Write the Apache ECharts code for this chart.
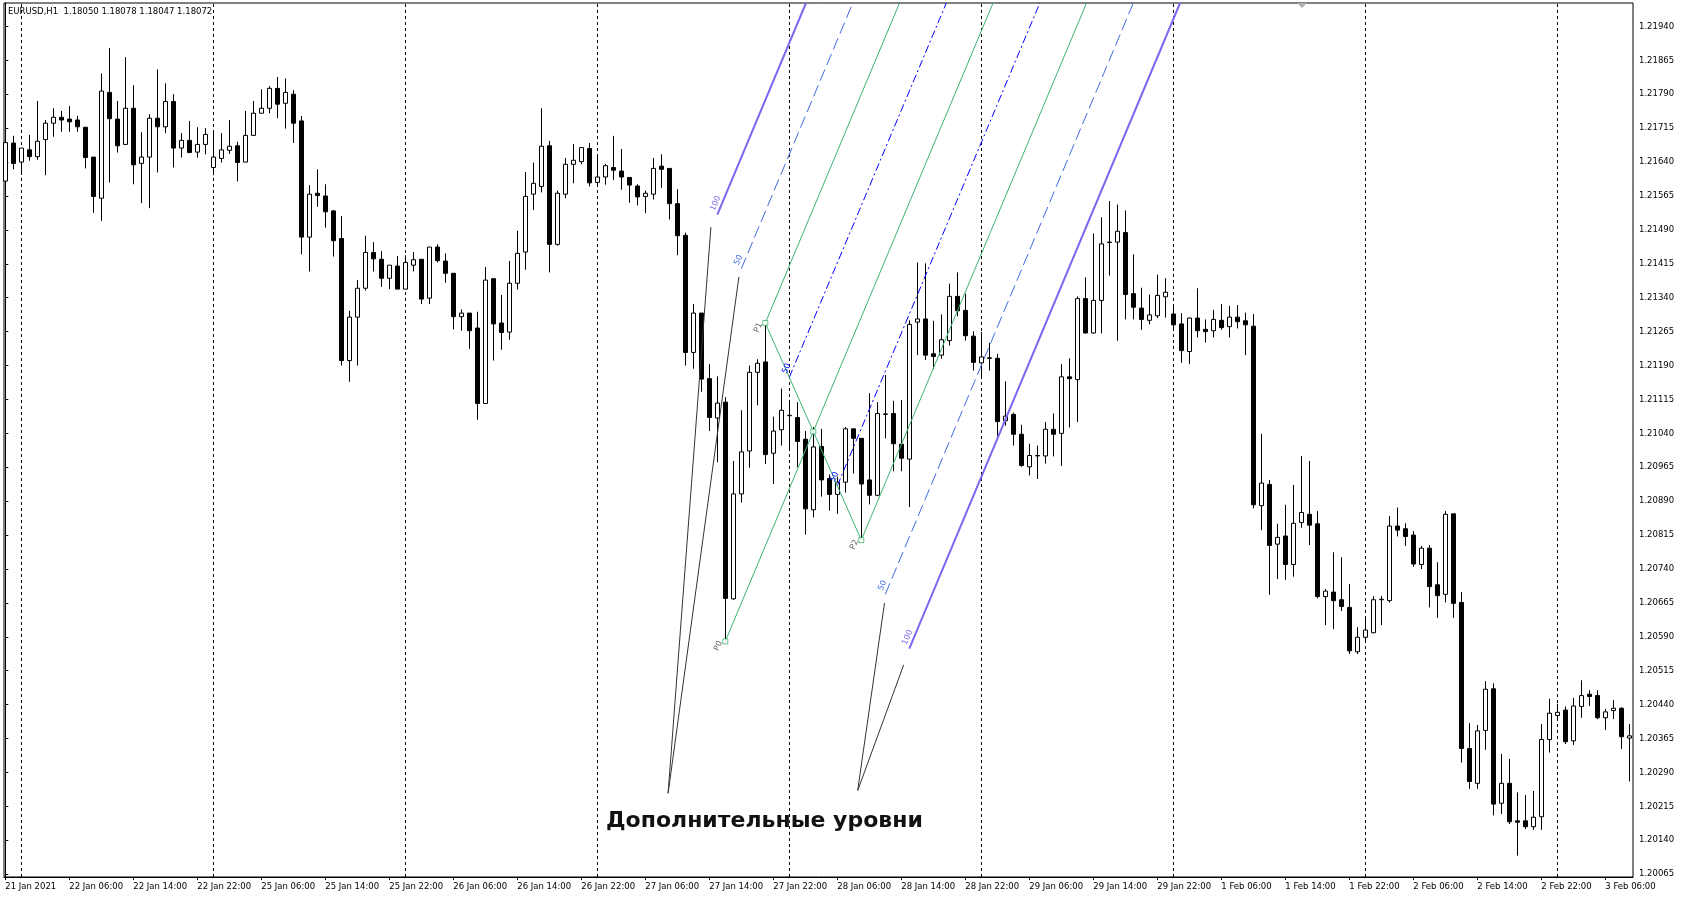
<!DOCTYPE html>
<html><head><meta charset="utf-8">
<script src="https://cdn.jsdelivr.net/npm/echarts@6/dist/echarts.min.js"></script>
<style>html,body{margin:0;padding:0;background:#fff}#c{width:1681px;height:900px}</style>
</head><body><div id="c"></div>
<script>
// ---- data (EURUSD H1, bar 0 = 21 Jan 22:00) ----
const open = [1.21598,1.21682,1.21640,1.21667,1.21652,1.21690,1.21726,1.21739,1.21735,1.21733,
1.21717,1.21651,1.21560,1.21794,1.21735,1.21679,1.21759,1.21637,1.21651,1.21737,
1.21718,1.21774,1.21671,1.21688,1.21662,1.21679,1.21628,1.21648,1.21666,1.21676,
1.21640,1.21699,1.21748,1.21759,1.21803,1.21770,1.21790,1.21731,1.21474,1.21571,
1.21565,1.21532,1.21471,1.21201,1.21297,1.21361,1.21440,1.21425,1.21383,1.21410,
1.21359,1.21412,1.21425,1.21339,1.21452,1.21421,1.21394,1.21298,1.21306,1.21273,
1.21106,1.21382,1.21284,1.21264,1.21372,1.21441,1.21569,1.21586,1.21676,1.21458,
1.21569,1.21635,1.21641,1.21670,1.21595,1.21607,1.21628,1.21620,1.21606,1.21587,
1.21564,1.21569,1.21631,1.21626,1.21548,1.21478,1.21219,1.21306,1.21161,1.21074,
1.21109,1.20674,1.20906,1.21001,1.21175,1.21198,1.20996,1.21048,1.21079,1.21075,
1.21027,1.20871,1.21011,1.20940,1.20905,1.20932,1.21050,1.21029,1.20937,1.20903,
1.21082,1.21084,1.21016,1.20983,1.21286,1.21293,1.21216,1.21213,1.21245,1.21343,
1.21312,1.21255,1.21196,1.21207,1.21206,1.21068,1.21082,1.21038,1.20966,1.20990,
1.20990,1.21049,1.21040,1.21165,1.21159,1.21338,1.21262,1.21334,1.21463,1.21463,
1.21484,1.21349,1.21317,1.21290,1.21300,1.21342,1.21304,1.21282,1.21221,1.21295,
1.21270,1.21267,1.21290,1.21276,1.21297,1.21289,1.21277,1.20880,1.20927,1.20795,
1.20813,1.20750,1.20843,1.20861,1.20840,1.20679,1.20689,1.20672,1.20655,1.20557,
1.20589,1.20599,1.20672,1.20670,1.20835,1.20829,1.20815,1.20750,1.20786,1.20705,
1.20684,1.20862,1.20666,1.20343,1.20266,1.20383,1.20475,1.20222,1.20266,1.20183,
1.20183,1.20170,1.20192,1.20363,1.20416,1.20428,1.20360,1.20436,1.20463,1.20460,
1.20411,1.20427,1.20432,1.20366];
const close = [1.21683,1.21637,1.21671,1.21652,1.21686,1.21726,1.21739,1.21733,1.21729,1.21718,
1.21650,1.21564,1.21797,1.21736,1.21676,1.21759,1.21634,1.21651,1.21737,1.21718,
1.21774,1.21671,1.21688,1.21661,1.21679,1.21701,1.21651,1.21667,1.21675,1.21639,
1.21699,1.21748,1.21759,1.21803,1.21768,1.21794,1.21726,1.21474,1.21569,1.21566,
1.21530,1.21466,1.21201,1.21297,1.21361,1.21440,1.21426,1.21383,1.21412,1.21359,
1.21418,1.21424,1.21337,1.21452,1.21422,1.21394,1.21298,1.21306,1.21267,1.21106,
1.21379,1.21282,1.21263,1.21372,1.21438,1.21564,1.21593,1.21675,1.21458,1.21571,
1.21635,1.21644,1.21672,1.21594,1.21607,1.21632,1.21622,1.21607,1.21589,1.21563,
1.21571,1.21626,1.21624,1.21548,1.21477,1.21219,1.21306,1.21160,1.21075,1.21107,
1.20675,1.20906,1.20999,1.21175,1.21195,1.20993,1.21045,1.21091,1.21080,1.21022,
1.20873,1.21010,1.20937,1.20905,1.20932,1.21050,1.21029,1.20928,1.20903,1.21084,
1.21083,1.21017,1.20985,1.21281,1.21293,1.21213,1.21210,1.21247,1.21343,1.21311,
1.21256,1.21197,1.21209,1.21206,1.21066,1.21078,1.21038,1.20969,1.20991,1.20991,
1.21049,1.21038,1.21165,1.21161,1.21338,1.21262,1.21334,1.21459,1.21462,1.21487,
1.21347,1.21319,1.21292,1.21302,1.21345,1.21352,1.21280,1.21223,1.21295,1.21267,
1.21265,1.21292,1.21274,1.21297,1.21287,1.21280,1.20882,1.20930,1.20792,1.20810,
1.20750,1.20841,1.20865,1.20837,1.20679,1.20691,1.20670,1.20657,1.20559,1.20589,
1.20605,1.20672,1.20673,1.20835,1.20826,1.20812,1.20751,1.20786,1.20701,1.20681,
1.20861,1.20664,1.20343,1.20270,1.20382,1.20474,1.20220,1.20266,1.20181,1.20180,
1.20170,1.20191,1.20363,1.20421,1.20423,1.20358,1.20437,1.20460,1.20458,1.20411,
1.20424,1.20432,1.20369,1.20371];
const high = [1.21695,1.21698,1.21671,1.21700,1.21775,1.21733,1.21759,1.21753,1.21764,1.21742,
1.21717,1.21651,1.21836,1.21892,1.21775,1.21872,1.21810,1.21706,1.21746,1.21845,
1.21814,1.21790,1.21704,1.21731,1.21717,1.21715,1.21711,1.21704,1.21733,1.21685,
1.21753,1.21775,1.21801,1.21808,1.21828,1.21825,1.21799,1.21742,1.21589,1.21624,
1.21591,1.21534,1.21521,1.21311,1.21379,1.21477,1.21463,1.21443,1.21412,1.21432,
1.21434,1.21441,1.21425,1.21452,1.21458,1.21438,1.21394,1.21314,1.21306,1.21309,
1.21408,1.21383,1.21346,1.21421,1.21488,1.21618,1.21639,1.21759,1.21687,1.21577,
1.21649,1.21680,1.21672,1.21682,1.21657,1.21636,1.21698,1.21669,1.21606,1.21591,
1.21577,1.21649,1.21657,1.21626,1.21580,1.21484,1.21326,1.21306,1.21193,1.21166,
1.21120,1.20979,1.21091,1.21190,1.21204,1.21284,1.21077,1.21139,1.21114,1.21109,
1.21045,1.21054,1.21050,1.20949,1.20944,1.21054,1.21050,1.21029,1.21129,1.21109,
1.21169,1.21112,1.21114,1.21290,1.21418,1.21416,1.21289,1.21303,1.21371,1.21396,
1.21349,1.21266,1.21264,1.21240,1.21216,1.21155,1.21086,1.21059,1.21017,1.21013,
1.21065,1.21084,1.21193,1.21206,1.21343,1.21385,1.21482,1.21518,1.21554,1.21546,
1.21533,1.21436,1.21362,1.21347,1.21391,1.21383,1.21324,1.21306,1.21296,1.21361,
1.21292,1.21313,1.21326,1.21322,1.21324,1.21307,1.21304,1.21039,1.20937,1.20840,
1.20882,1.20926,1.20990,1.20979,1.20868,1.20696,1.20777,1.20766,1.20707,1.20611,
1.20636,1.20680,1.20680,1.20857,1.20876,1.20841,1.20824,1.20791,1.20793,1.20755,
1.20868,1.20862,1.20689,1.20399,1.20395,1.20492,1.20487,1.20331,1.20320,1.20246,
1.20240,1.20249,1.20397,1.20453,1.20442,1.20436,1.20455,1.20494,1.20472,1.20472,
1.20430,1.20450,1.20434,1.20397];
const low = [1.21564,1.21624,1.21613,1.21643,1.21645,1.21611,1.21696,1.21707,1.21707,1.21707,
1.21626,1.21528,1.21510,1.21595,1.21661,1.21679,1.21591,1.21549,1.21538,1.21617,
1.21704,1.21628,1.21650,1.21661,1.21650,1.21657,1.21611,1.21639,1.21658,1.21597,
1.21640,1.21699,1.21748,1.21748,1.21737,1.21714,1.21682,1.21436,1.21398,1.21541,
1.21495,1.21431,1.21190,1.21154,1.21190,1.21356,1.21398,1.21364,1.21359,1.21359,
1.21359,1.21398,1.21326,1.21326,1.21418,1.21373,1.21270,1.21267,1.21227,1.21070,
1.21106,1.21201,1.21225,1.21247,1.21358,1.21402,1.21534,1.21573,1.21396,1.21455,
1.21560,1.21593,1.21635,1.21586,1.21586,1.21590,1.21600,1.21579,1.21550,1.21544,
1.21527,1.21557,1.21583,1.21513,1.21434,1.21190,1.21183,1.21132,1.21045,1.20976,
1.20580,1.20672,1.20887,1.20964,1.21102,1.20972,1.20928,1.21013,1.21004,1.20965,
1.20816,1.20854,1.20900,1.20869,1.20862,1.20909,1.20951,1.20804,1.20883,1.20901,
1.21029,1.20956,1.20956,1.20877,1.21213,1.21202,1.21182,1.21205,1.21234,1.21299,
1.21245,1.21179,1.21163,1.21179,1.21031,1.21057,1.21013,1.20966,1.20947,1.20939,
1.20973,1.20989,1.20968,1.21053,1.21065,1.21261,1.21261,1.21261,1.21389,1.21245,
1.21292,1.21292,1.21269,1.21281,1.21295,1.21296,1.21272,1.21196,1.21193,1.21252,
1.21241,1.21252,1.21269,1.21252,1.21272,1.21213,1.20874,1.20826,1.20683,1.20718,
1.20716,1.20723,1.20831,1.20793,1.20675,1.20616,1.20607,1.20647,1.20552,1.20552,
1.20583,1.20598,1.20616,1.20666,1.20812,1.20791,1.20745,1.20740,1.20655,1.20632,
1.20666,1.20632,1.20312,1.20254,1.20254,1.20340,1.20195,1.20198,1.20176,1.20106,
1.20165,1.20163,1.20163,1.20334,1.20405,1.20353,1.20351,1.20411,1.20437,1.20408,
1.20384,1.20408,1.20342,1.20270];

// time-axis labels, one every 8 bars starting at bar 0
const timeTickLabels = ['21 Jan 2021','22 Jan 06:00','22 Jan 14:00','22 Jan 22:00','25 Jan 06:00','25 Jan 14:00',
'25 Jan 22:00','26 Jan 06:00','26 Jan 14:00','26 Jan 22:00','27 Jan 06:00','27 Jan 14:00','27 Jan 22:00',
'28 Jan 06:00','28 Jan 14:00','28 Jan 22:00','29 Jan 06:00','29 Jan 14:00','29 Jan 22:00','1 Feb 06:00',
'1 Feb 14:00','1 Feb 22:00','2 Feb 06:00','2 Feb 14:00','2 Feb 22:00','3 Feb 06:00'];
const timeTickBars = [0,8,16,24,32,40,48,56,64,72,80,88,96,104,112,120,128,136,144,152,160,168,176,184,192,200];
// day separators (bar index of 00:00)
const daySeparators = [2,26,50,74,98,122,146,170,194];
// price-axis tick labels
const priceTicks = [1.20065,1.20140,1.20215,1.20290,1.20365,1.20440,1.20515,1.20590,1.20665,1.20740,
1.20815,1.20890,1.20965,1.21040,1.21115,1.21190,1.21265,1.21340,1.21415,1.21490,1.21565,1.21640,
1.21715,1.21790,1.21865,1.21940];
// pitchfork anchors [bar, price]
const pfP0 = [90, 1.20580];
const pfP1 = [95, 1.21284];
const pfP2 = [107, 1.20804];
// levels as fractions of the P1-P2 half-width measured from the median
const pfLevelT     = [-2, -1.5, -1, -0.5, 0.5, 1, 1.5, 2];
const pfLevelText  = ['100', '50', '', '50', '50', '', '50', '100'];
const pfLevelKind  = ['outer', 'outer50', 'tine', 'inner', 'inner', 'tine', 'outer50', 'outer'];
// annotation callouts: [from, to] in [bar, price]
const callouts = [
  [[82.85, 1.20244], [88.2, 1.21496]],
  [[82.85, 1.20244], [91.7, 1.21386]],
  [[106.55, 1.20250], [109.9, 1.20665]],
  [[106.55, 1.20250], [112.3, 1.20528]]
];
const annotationText = 'Дополнительные уровни';
const headerText = 'EURUSD,H1  1.18050 1.18078 1.18047 1.18072';

// ---- chart ----
const yMin = 1.200588, yMax = 1.219918;
const xMin = -0.1625, xMax = 203.4625;
const candles = open.map((o, i) => [i, o, close[i], low[i], high[i]]);

const M = [(pfP1[0] + pfP2[0]) / 2, (pfP1[1] + pfP2[1]) / 2];
const dir = [M[0] - pfP0[0], M[1] - pfP0[1]];
function rayEnd(s) {
  const k = (yMax - 1e-7 - s[1]) / dir[1];
  return [s[0] + k * dir[0], s[1] + k * dir[1]];
}
const kinds = {
  outer:   { color: '#7B68EE', width: 2, type: 'solid' },
  outer50: { color: '#4169E1', width: 1, type: [12, 5] },
  tine:    { color: '#3CB371', width: 1, type: 'solid' },
  inner:   { color: '#0000FF', width: 1, type: [8, 3, 2, 3] }
};
const pfLines = [];
pfLevelT.forEach((t, i) => {
  const s = [M[0] + t * (pfP2[0] - M[0]), M[1] + t * (pfP2[1] - M[1])];
  const k = kinds[pfLevelKind[i]];
  pfLines.push([
    { coord: s, lineStyle: { color: k.color, width: k.width, type: k.type },
      label: { show: pfLevelText[i] !== '', formatter: pfLevelText[i], position: 'insideStartTop',
               color: k.color, fontSize: 8, fontFamily: 'DejaVu Sans', distance: 2 } },
    { coord: rayEnd(s) }
  ]);
});
pfLines.push([{ coord: pfP0, lineStyle: { color: '#3CB371', width: 1, type: 'solid' }, label: { show: false } }, { coord: rayEnd(pfP0) }]);
pfLines.push([{ coord: pfP1, lineStyle: { color: '#3CB371', width: 1, type: 'solid' }, label: { show: false } }, { coord: pfP2 }]);
callouts.forEach(c => {
  pfLines.push([{ coord: c[0], lineStyle: { color: '#333', width: 1, type: 'solid' }, label: { show: false } }, { coord: c[1] }]);
});

const chart = echarts.init(document.getElementById('c'), null, { renderer: 'canvas' });
chart.setOption({
  animation: false,
  backgroundColor: '#fff',
  title: [
    { text: headerText, left: 8, top: 7, padding: 0,
      textStyle: { fontFamily: 'DejaVu Sans', fontSize: 8.5, fontWeight: 'normal', color: '#000' } },
    { text: annotationText, left: 606, top: 810, padding: 0,
      textStyle: { fontFamily: 'DejaVu Sans', fontSize: 22, fontWeight: 'bold', color: '#111' } }
  ],
  graphic: [
    { type: 'polygon', shape: { points: [[1297, 3], [1307, 3], [1302, 8]] }, style: { fill: '#b0b0b0' }, z: 100 }
  ],
  grid: { left: 4, right: 48, top: 3, bottom: 23, show: true, borderColor: '#000', borderWidth: 1, backgroundColor: '#fff' },
  xAxis: {
    type: 'value', min: xMin, max: xMax,
    axisLine: { show: true, lineStyle: { color: '#000', width: 1 } },
    axisTick: { show: true, length: 3, customValues: timeTickBars, lineStyle: { color: '#000' } },
    axisLabel: { customValues: timeTickBars, formatter: v => timeTickLabels[timeTickBars.indexOf(Math.round(v))] || '',
                 align: 'left', margin: 5, color: '#000', fontFamily: 'DejaVu Sans', fontSize: 8.5 },
    splitLine: { show: false }
  },
  yAxis: {
    type: 'value', position: 'right', min: yMin, max: yMax,
    axisLine: { show: true, lineStyle: { color: '#000', width: 1 } },
    axisTick: { show: true, length: 3, customValues: priceTicks, lineStyle: { color: '#000' } },
    axisLabel: { customValues: priceTicks, formatter: v => v.toFixed(5), margin: 6, color: '#000',
                 fontFamily: 'DejaVu Sans', fontSize: 8.5 },
    splitLine: { show: false }
  },
  series: [
    { type: 'line', data: [], z: 1,
      markLine: { silent: true, symbol: ['none', 'none'], z: 1, animation: false,
        label: { show: false },
        lineStyle: { color: '#000', width: 1, type: [3, 3] },
        data: daySeparators.map(b => ({ xAxis: b })) } },
    { type: 'candlestick', data: candles, z: 2, barWidth: 4,
      itemStyle: { color: '#fff', color0: '#000', borderColor: '#000', borderColor0: '#000', borderWidth: 1 } },
    { type: 'line', data: [], z: 5,
      markLine: { silent: true, symbol: ['none', 'none'], z: 5, animation: false, data: pfLines } },
    { type: 'scatter', z: 6, symbol: 'rect', symbolSize: 5,
      itemStyle: { color: '#fff', borderColor: '#3CB371', borderWidth: 1 },
      data: [
        { value: pfP0, label: { show: true, formatter: 'P0' } },
        { value: pfP1, label: { show: true, formatter: 'P1' } },
        { value: M, label: { show: false } },
        { value: pfP2, label: { show: true, formatter: 'P2' } }
      ],
      label: { position: 'left', rotate: 67, distance: 2, fontSize: 8, fontFamily: 'DejaVu Sans', color: '#333' } }
  ]
});
</script></body></html>
